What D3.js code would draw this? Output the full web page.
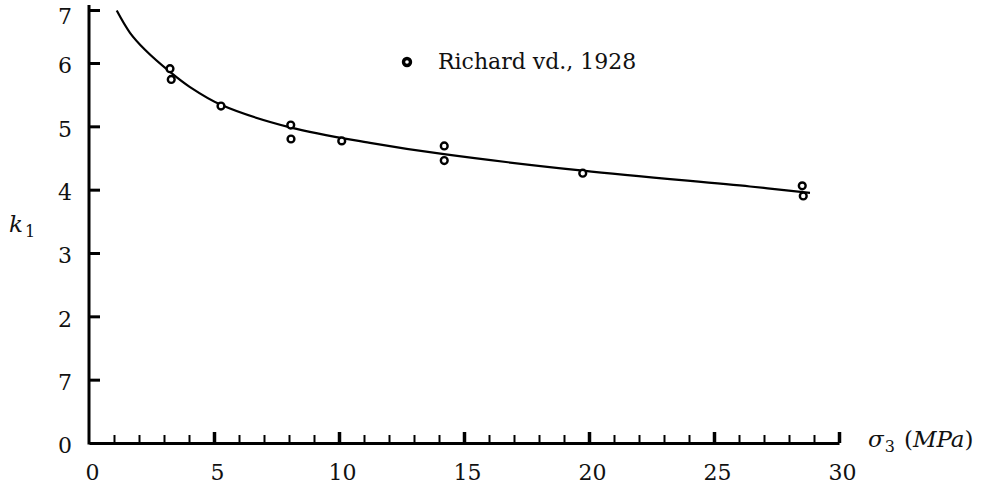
<!DOCTYPE html>
<html>
<head>
<meta charset="utf-8">
<script src="https://cdn.jsdelivr.net/npm/d3@7"></script>
<style>
  body { margin: 0; background: #fff; }
  svg { display: block; }
</style>
</head>
<body>
<div id="chart"></div>
<script>
// measured points (sigma3 in MPa, k1)
const sigma3 = [3.24, 3.29, 5.28, 8.07, 8.08, 10.11, 14.21, 14.21, 19.75, 28.53, 28.57];
const k1 = [5.91, 5.74, 5.32, 5.02, 4.80, 4.77, 4.69, 4.46, 4.26, 4.06, 3.90];

// fitted curve
const curveX = [1.11, 1.64, 2.24, 3.24, 4.04, 5.28, 8.08, 11.24, 14.2, 19.76, 26.44, 28.84];
const curveK = [6.99, 6.57, 6.25, 5.86, 5.62, 5.34, 4.98, 4.74, 4.56, 4.30, 4.05, 3.95];

const xTicks = d3.range(0, 31);
const yTicks = [0, 1, 2, 3, 4, 5, 6, 7];
// labels as printed in the original (the "1" is printed as "7")
const yTickLabels = ["0", "7", "2", "3", "4", "5", "6", "7"];
const legendLabel = "Richard vd., 1928";

const width = 981;
const height = 489;
const serif = "'DejaVu Serif', 'Liberation Serif', serif";

const svg = d3.select("#chart")
  .append("svg")
  .attr("width", width)
  .attr("height", height);

const x = d3.scaleLinear()
  .domain([0, 30])
  .range([89, 839]);

// the hand drawn axis is squeezed between 6 and 7
const y = d3.scaleLinear()
  .domain([0, 6, 7])
  .range([443, 63, 10]);

// y axis
const yAxis = svg.append("g")
  .attr("transform", `translate(${x(0)},0)`)
  .call(d3.axisLeft(y)
    .tickValues(yTicks)
    .tickFormat((d, i) => yTickLabels[i])
    .tickSize(-11)
    .tickSizeOuter(0)
    .tickPadding(17));
yAxis.select(".domain").remove();
yAxis.selectAll(".tick line")
  .attr("stroke", "#000")
  .attr("stroke-width", 3);
yAxis.selectAll(".tick text")
  .attr("dy", "0.45em")
  .style("font-family", serif)
  .style("font-size", "22px")
  .attr("fill", "#111");
yAxis.select(".tick:last-of-type text").attr("dy", "0.62em");
yAxis.selectAll(".tick").filter(d => d === 0).select("line").remove();

yAxis.append("line")
  .attr("x1", 0).attr("x2", 0)
  .attr("y1", y(0) + 1.5).attr("y2", y(7) - 5)
  .attr("stroke", "#000")
  .attr("stroke-width", 3);

// x axis
const xAxis = svg.append("g")
  .attr("transform", `translate(0,${y(0)})`)
  .call(d3.axisBottom(x)
    .tickValues(xTicks)
    .tickFormat(d => d % 5 === 0 ? d : "")
    .tickSize(-8)
    .tickSizeOuter(0)
    .tickPadding(21));
xAxis.select(".domain")
  .attr("stroke", "#000")
  .attr("stroke-width", 3);
xAxis.selectAll(".tick line")
  .attr("stroke", "#000")
  .attr("stroke-width", 2);
xAxis.selectAll(".tick")
  .filter(d => d % 5 === 0 && d > 0)
  .select("line")
  .attr("y2", -11)
  .attr("stroke-width", 3.5);
xAxis.selectAll(".tick").filter(d => d === 0).select("line").remove();
xAxis.selectAll(".tick text")
  .attr("dx", 3)
  .style("font-family", serif)
  .style("font-size", "22px")
  .attr("fill", "#111");

// curve
const line = d3.line()
  .x(d => x(d[0]))
  .y(d => y(d[1]))
  .curve(d3.curveCatmullRom.alpha(0.5));

svg.append("path")
  .datum(curveX.map((v, i) => [v, curveK[i]]))
  .attr("d", line)
  .attr("fill", "none")
  .attr("stroke", "#000")
  .attr("stroke-width", 2.2);

// points
svg.append("g")
  .selectAll("circle")
  .data(sigma3.map((v, i) => [v, k1[i]]))
  .join("circle")
  .attr("cx", d => x(d[0]))
  .attr("cy", d => y(d[1]))
  .attr("r", 3.4)
  .attr("fill", "#fff")
  .attr("stroke", "#000")
  .attr("stroke-width", 2.4);

// legend
const legend = svg.append("g").attr("transform", "translate(407,62)");
legend.append("circle")
  .attr("r", 3.5)
  .attr("fill", "#fff")
  .attr("stroke", "#000")
  .attr("stroke-width", 3.4);
legend.append("text")
  .attr("x", 31)
  .attr("y", 7)
  .style("font-family", serif)
  .style("font-size", "22px")
  .attr("fill", "#111")
  .text(legendLabel);

// axis titles
const yTitle = svg.append("text")
  .attr("x", 9)
  .attr("y", 232)
  .style("font-family", serif)
  .style("font-size", "23px")
  .attr("fill", "#111");
yTitle.append("tspan").style("font-style", "italic").text("k");
yTitle.append("tspan").attr("dy", 5).attr("dx", 2).style("font-size", "16px").text("1");

const xTitle = svg.append("text")
  .attr("x", 868)
  .attr("y", 447)
  .style("font-family", serif)
  .style("font-size", "23px")
  .attr("fill", "#111");
xTitle.append("tspan").style("font-style", "italic").text("σ");
xTitle.append("tspan").attr("dy", 5).attr("dx", 1).style("font-size", "16px").text("3");
xTitle.append("tspan").attr("dy", -5).attr("dx", 9).text("(");
xTitle.append("tspan").style("font-style", "italic").text("MPa");
xTitle.append("tspan").text(")");
</script>
</body>
</html>
